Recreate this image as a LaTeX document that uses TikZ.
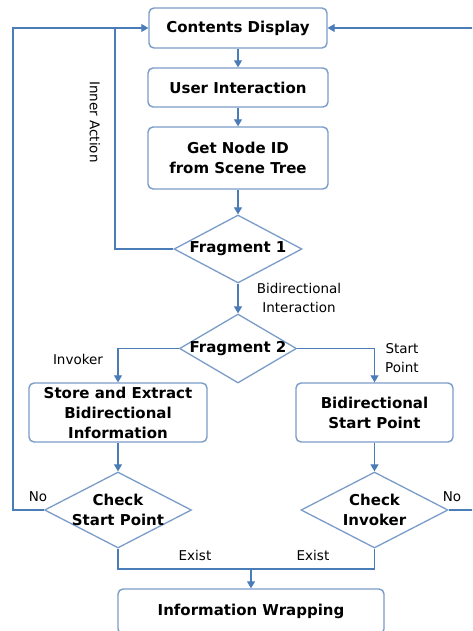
\documentclass[tikz,border=0pt]{standalone}
\usepackage{fontspec}
\setmainfont{DejaVu Sans}
\usetikzlibrary{shapes.geometric,arrows.meta}
\definecolor{lineblue}{RGB}{74,124,184}
\definecolor{boxblue}{RGB}{122,156,200}
\tikzset{
  box/.style={draw=boxblue, line width=1.4pt, rounded corners=5pt, fill=white, inner sep=0pt,
    align=center, font=\bfseries\fontsize{15}{20}\selectfont},
  dia/.style={draw=boxblue, line width=1.3pt, diamond, inner sep=0pt, fill=white},
  diatext/.style={align=center, font=\bfseries\fontsize{15}{20}\selectfont},
  lab/.style={align=center, font=\fontsize{13.5}{19}\selectfont},
  line/.style={draw=lineblue, line width=1.2pt},
  arr/.style={line, -{Triangle[width=8pt,length=7pt]}}
}
\begin{document}
\begin{tikzpicture}[x=1pt,y=-1pt]
\clip (0,0) rectangle (472,631);
\fill[white] (0,0) rectangle (472,631);
% boxes
\node[box, minimum width=178, minimum height=40] (cd) at (238,28) {Contents Display};
\node[box, minimum width=180, minimum height=39] (ui) at (238,87.5) {User Interaction};
\node[box, minimum width=180, minimum height=62] (gn) at (238,158) {Get Node ID\\from Scene Tree};
\node[dia, minimum width=128, minimum height=68] (f1) at (238,249) {};
\node[diatext] (f1t) at (f1) {Fragment 1};
\node[dia, minimum width=117, minimum height=69] (f2) at (238,348.5) {};
\node[diatext] (f2t) at (f2) {Fragment 2};
\node[box, minimum width=178, minimum height=59] (sb) at (118,412.5) {Store and Extract\\Bidirectional\\Information};
\node[box, minimum width=157, minimum height=59] (bsp) at (374.5,412.5) {Bidirectional\\Start Point};
\node[dia, minimum width=147, minimum height=76] (csp) at (118,510) {};
\node[diatext] (cspt) at (csp) {Check\\Start Point};
\node[dia, minimum width=147, minimum height=76] (ci) at (374.5,510) {};
\node[diatext] (cit) at (ci) {Check\\Invoker};
\node[box, minimum width=266, minimum height=45] (iw) at (251,611.5) {Information Wrapping};
% connectors
\coordinate (lo) at (13,28);
\coordinate (j) at (115,28);
\coordinate (ro) at (480,28);
\coordinate (m) at (251,569);
\draw[arr] (cd) -- (ui);
\draw[arr] (ui) -- (gn);
\draw[arr] (gn) -- (f1);
\draw[arr] (f1) -- (f2);
\draw[line] (f1.west) -| (j);
\draw[arr] (csp.west) -| (lo) -- (cd.west);
\draw[arr] (ci.east) -| (ro) -- (cd.east);
\draw[arr] (f2.west) -| (sb.north);
\draw[arr] (f2.east) -| (bsp.north);
\draw[arr] (sb) -- (csp);
\draw[arr] (bsp) -- (ci);
\draw[line] (csp.south) |- (m) -| (ci.south);
\draw[arr] (m) -- (iw.north);
% labels
\node[lab, rotate=-90] (ia) at (95,122) {Inner Action};
\node[lab] (bi) at (299,298) {Bidirectional\\Interaction};
\node[lab] (inv) at (78,359) {Invoker};
\node[lab] (stp) at (402,358.5) {Start\\Point};
\node[lab] (no1) at (38,497) {No};
\node[lab] (no2) at (452,497) {No};
\node[lab] (ex1) at (195,555) {Exist};
\node[lab] (ex2) at (313,555) {Exist};
\end{tikzpicture}
\end{document}
